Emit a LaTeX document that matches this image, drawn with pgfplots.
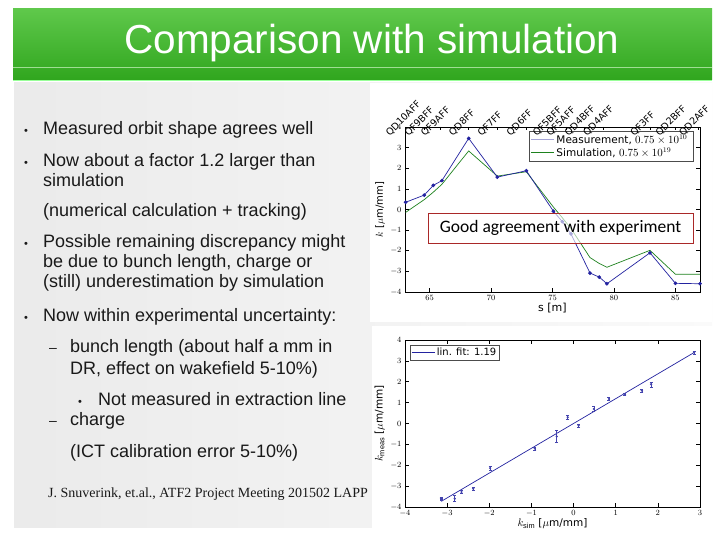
\documentclass[border=0pt]{standalone}
\usepackage{pgfplots}
\pgfplotsset{compat=1.18}
\usepackage{fontspec}
\setmainfont{Liberation Sans}
\newfontfamily\plotfont{DejaVu Sans}
\newfontfamily\seriffont{Liberation Serif}
\newfontfamily\calfont{Carlito}
\definecolor{measblue}{RGB}{35,35,160}
\definecolor{simgreen}{RGB}{30,130,30}
\definecolor{leglav}{RGB}{165,165,215}
\definecolor{barTop}{RGB}{95,200,75}
\definecolor{barBot}{RGB}{48,166,30}
\definecolor{boxred}{RGB}{170,40,40}
\definecolor{txt}{RGB}{25,25,25}
\pgfplotstableread{
s k
63.05 0.35
64.57 0.70
65.30 1.17
66.00 1.40
68.18 3.45
70.51 1.57
72.87 1.88
75.07 -0.08
75.80 -0.59
76.50 -1.18
78.05 -3.08
78.81 -3.28
79.43 -3.60
82.93 -2.10
85.00 -3.58
87.00 -3.60
}\meas
\pgfplotstableread{
s k
63.05 -0.14
64.57 0.48
65.30 0.84
66.00 1.22
68.18 2.84
70.51 1.62
72.87 1.83
75.07 0.12
75.80 -0.40
76.50 -0.92
78.05 -2.33
78.81 -2.62
79.43 -2.80
82.93 -1.98
85.00 -3.14
87.00 -3.14
}\sim
\pgfplotstableread{
x y e
-3.14 -3.62 0.06
-3.14 -3.58 0.06
-2.82 -3.60 0.14
-2.66 -3.28 0.08
-2.38 -3.12 0.07
-1.98 -2.14 0.08
-0.92 -1.20 0.08
-0.40 -0.62 0.29
-0.14 0.30 0.10
0.12 -0.10 0.07
0.48 0.69 0.12
0.84 1.18 0.06
1.22 1.39 0.05
1.62 1.58 0.08
1.84 1.88 0.12
2.86 3.41 0.07
}\scat
\begin{document}
\begin{tikzpicture}[x=1pt,y=1pt]
\useasboundingbox (0,0) rectangle (720,540);
\fill[white] (0,0) rectangle (720,540);
% slide panel
\shade[left color=black!8, right color=black!2] (14,12) rectangle (712,457);
% plot image backgrounds
\fill[white] (370,218) rectangle (712,457);
\fill[white] (372,0) rectangle (720,214);
% title bar
\shade[top color=barTop, bottom color=barBot] (13,460) rectangle (712,531);
\draw[barTop!60!white, line width=0.6pt] (13,473) -- (712,473);
\draw[green!40!white, line width=0.8pt] (13,459.5) -- (712,459.5);
\node[anchor=base, text=white, inner sep=0pt, font=\fontsize{40.5}{48}\selectfont] at (372,486) {Comparison with simulation};
% bullets
\begin{scope}[every node/.style={anchor=base west, inner sep=0pt, text=txt, font=\fontsize{18}{21}\selectfont}]
\node at (24,405) {\fontsize{11}{12}\selectfont\textbullet};
\node at (43,405) {Measured orbit shape agrees well};
\node at (24,373.3) {\fontsize{11}{12}\selectfont\textbullet};
\node at (43,373.3) {Now about a factor 1.2 larger than};
\node at (43,353) {simulation};
\node at (43,323.3) {(numerical calculation + tracking)};
\node at (24,292) {\fontsize{11}{12}\selectfont\textbullet};
\node at (43,292) {Possible remaining discrepancy might};
\node at (43,272) {be due to bunch length, charge or};
\node at (43,252) {(still) underestimation by simulation};
\node at (24,218) {\fontsize{11}{12}\selectfont\textbullet};
\node at (43,218) {Now within experimental uncertainty:};
\node at (49,187) {\fontsize{14}{16}\selectfont --};
\node at (70,187) {bunch length (about half a mm in};
\node at (70,165) {DR, effect on wakefield 5-10\%)};
\node at (78,134) {\fontsize{11}{12}\selectfont\textbullet};
\node at (98,134) {Not measured in extraction line};
\node at (49,114) {\fontsize{14}{16}\selectfont --};
\node at (70,114) {charge};
\node at (70,82) {(ICT calibration error 5-10\%)};
\node[font=\seriffont\fontsize{14}{16}\selectfont] at (48,42) {J. Snuverink, et.al., ATF2 Project Meeting 201502 LAPP};
\end{scope}
% ---------------- top plot
\begin{axis}[
  at={(405pt,248pt)}, anchor=south west, scale only axis,
  width=295pt, height=165pt,
  xmin=63, xmax=87, ymin=-4, ymax=4,
  xtick={65,70,75,80,85}, ytick={-4,-3,...,4},
  xtick pos=bottom, ytick pos=both, yticklabel pos=left,
  tick align=inside, major tick length=4pt,
  axis line style={black, line width=0.7pt},
  every tick/.style={black, line width=0.6pt},
  tick label style={font=\fontsize{8.5}{9}\selectfont},
  xlabel={s [m]}, ylabel={$k$ [$\mu$m/mm]},
  xlabel style={font=\plotfont\fontsize{11}{12}\selectfont, yshift=4pt},
  ylabel style={font=\plotfont\fontsize{10}{12}\selectfont, yshift=-1pt},
  legend style={at={(0.976,0.975)}, anchor=north east, draw=black!70,
    font=\plotfont\fontsize{10.5}{12}\selectfont, inner sep=1.5pt, row sep=-1pt},
  legend image code/.code={\draw[#1] (0pt,0pt) -- (23pt,0pt);},
  legend cell align=left,
]
\addplot[simgreen, line width=0.7pt, forget plot] table[x=s,y=k] {\sim};
\addplot[measblue, line width=0.7pt, mark=*, mark size=1.5pt, forget plot] table[x=s,y=k] {\meas};
\addlegendimage{leglav, line width=0.7pt}
\addlegendentry{Measurement, $0.75\times10^{10}$\,}
\addlegendimage{simgreen, line width=0.7pt}
\addlegendentry{Simulation, $0.75\times10^{19}$}
\end{axis}
\begin{axis}[
  at={(405pt,248pt)}, anchor=south west, scale only axis,
  width=295pt, height=165pt,
  xmin=63, xmax=87, ymin=-4, ymax=4,
  axis x line*=top, axis y line=none,
  tick align=inside, major tick length=3pt,
  axis line style={black, line width=0.7pt},
  every tick/.style={black, line width=0.6pt},
  xtick={63.05,64.57,65.9,68.18,70.51,72.87,75.0,76.1,77.6,79.1,82.93,85.0,86.9},
  xticklabels={QD10AFF,QF9BFF,QF9AFF,QD8FF,QF7FF,QD6FF,QF5BFF,QF5AFF,QD4BFF,QD4AFF,QF3FF,QD2BFF,QD2AFF},
  xticklabel style={rotate=45, anchor=south west, inner sep=1pt, xshift=-19pt, yshift=2pt,
    font=\plotfont\fontsize{9.5}{10}\selectfont},
]
\addplot[draw=none] coordinates {(63,0) (87,0)};
\end{axis}
\node[draw=boxred, line width=0.8pt, fill=white, fill opacity=0.6, text opacity=1,
  minimum width=265pt, minimum height=30pt, inner sep=0pt,
  font=\calfont\fontsize{17.5}{20}\selectfont] at (560.5,312) {Good agreement with experiment};
% ---------------- bottom plot
\begin{axis}[
  at={(405pt,33pt)}, anchor=south west, scale only axis,
  width=295pt, height=167pt,
  xmin=-4, xmax=3, ymin=-4, ymax=4,
  xtick={-4,-3,...,3}, ytick={-4,-3,...,4},
  xtick pos=both, ytick pos=both, xticklabel pos=left, yticklabel pos=left,
  tick align=inside, major tick length=4pt,
  axis line style={black, line width=0.7pt},
  every tick/.style={black, line width=0.6pt},
  tick label style={font=\fontsize{8.5}{9}\selectfont},
  xlabel={$k_{\mathrm{sim}}$ [$\mu$m/mm]}, ylabel={$k_{\mathrm{meas}}$ [$\mu$m/mm]},
  xlabel style={font=\plotfont\fontsize{10.5}{12}\selectfont, yshift=5pt},
  ylabel style={font=\plotfont\fontsize{10.5}{12}\selectfont, yshift=-1pt},
  legend style={at={(0.017,0.97)}, anchor=north west, draw=black!70,
    font=\plotfont\fontsize{10}{12}\selectfont, inner sep=1pt},
  legend image code/.code={\draw[#1] (0pt,0pt) -- (23pt,0pt);},
  legend cell align=left,
]
\addplot[measblue, line width=0.7pt] coordinates {(-3.14,-3.73) (2.86,3.40)};
\addlegendentry{lin. fit: 1.19}
\addplot[measblue!85, only marks, mark=*, mark size=0.9pt, forget plot,
  error bars/.cd, y dir=both, y explicit,
  error bar style={line width=0.5pt},
  error mark options={rotate=90, mark size=1.5pt, line width=0.5pt}]
  table[x=x, y=y, y error=e] {\scat};
\end{axis}
\end{tikzpicture}
\end{document}
